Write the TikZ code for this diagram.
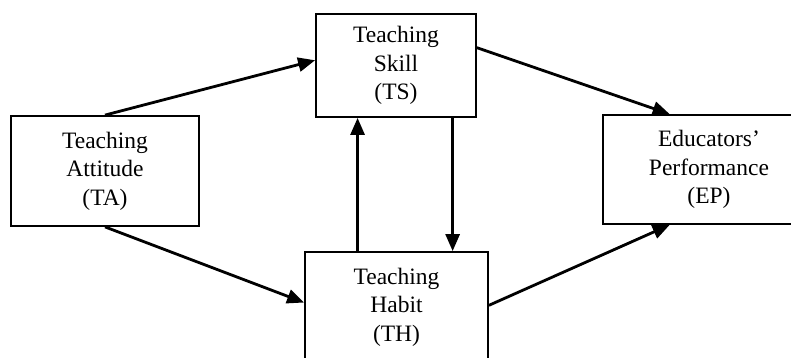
\documentclass[tikz,border=0pt]{standalone}
\usepackage{fontspec}
\setmainfont{Liberation Serif}
\usetikzlibrary{arrows.meta,calc}
\begin{document}
\begin{tikzpicture}[x=1pt,y=-1pt,
  box/.style={draw,line width=1.8pt,rectangle,align=center,inner sep=0pt,
    font=\fontsize{23.5}{28.5}\selectfont},
  arr/.style={line width=2.8pt,-{Triangle[length=17pt,width=14pt]}}]
\useasboundingbox (0,0) rectangle (791,358);
% construct boxes
\node[box,minimum width=188pt,minimum height=110pt] (TA) at (105,171)
  {Teaching\\Attitude\\(TA)};
\node[box,minimum width=160pt,minimum height=103pt] (TS) at (396,65.5)
  {Teaching\\Skill\\(TS)};
\node[box,minimum width=212pt,minimum height=109pt] (EP) at (709,169.5)
  {Educators’\\Performance\\(EP)};
\node[box,minimum width=183pt,minimum height=110pt] (TH) at (396.5,307)
  {Teaching\\Habit\\(TH)};
% attachment points on the box edges
\coordinate (TSin)  at ($(TS.north west)!0.45!(TS.south west)$);
\coordinate (THin)  at ($(TH.north west)!0.46!(TH.south west)$);
\coordinate (TSout) at ($(TS.north east)!0.33!(TS.south east)$);
\coordinate (EPtop) at ($(EP.north west)!0.316!(EP.north east)$);
\coordinate (EPbot) at ($(EP.south west)!0.316!(EP.south east)$);
\coordinate (THout) at ($(TH.north east)!0.485!(TH.south east)$);
\coordinate (TSup)  at ($(TS.south west)!0.2625!(TS.south east)$);
\coordinate (TSdn)  at ($(TS.south west)!0.85!(TS.south east)$);
% paths
\draw[arr] (TA.north) -- (TSin);
\draw[arr] (TA.south) -- (THin);
\draw[arr] (TSout) -- (EPtop);
\draw[arr] (THout) -- (EPbot);
\draw[arr] (TH.north -| TSup) -- (TSup);
\draw[arr] (TSdn) -- (TH.north -| TSdn);
\end{tikzpicture}
\end{document}
